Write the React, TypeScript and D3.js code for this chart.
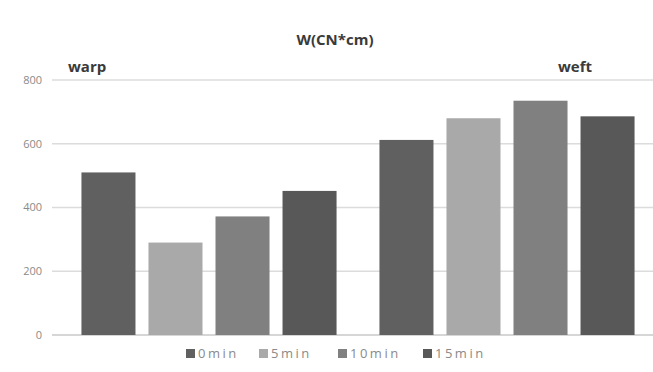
import React from "react";
import * as d3 from "d3";

const groups = ["warp", "weft"];
const seriesNames = ["0min", "5min", "10min", "15min"];
const warpValues = [510, 290, 372, 452];
const weftValues = [612, 680, 735, 686];
const yTicks = [0, 200, 400, 600, 800];
const colors = ["#606060", "#a9a9a9", "#808080", "#585858"];

const W = 653;
const H = 372;

export default function App() {
  const valuesByGroup = [warpValues, weftValues];
  const y = d3.scaleLinear().domain([0, 800]).range([335, 80]);
  const x0 = d3.scaleBand().domain(groups).range([60, 656]).padding(0);
  const x1 = d3
    .scaleBand()
    .domain(seriesNames)
    .range([0, x0.bandwidth()])
    .paddingInner(0.194)
    .paddingOuter(0.32);

  const font = "'Open Sans', 'Liberation Sans', sans-serif";
  const legendOffsets = [0, 73, 152, 237];

  return (
    <svg
      width={W}
      height={H}
      style={{ position: "absolute", left: 0, top: 0, background: "#fff" }}
      fontFamily={font}
    >
      <text x={335} y={45} textAnchor="middle" fontSize={15} fontWeight={700} fill="#3a3a3a">
        W(CN*cm)
      </text>

      {yTicks.map((t) => (
        <g key={t}>
          <line x1={52} x2={653} y1={y(t)} y2={y(t)} stroke={t === 0 ? "#c8c8c8" : "#dcdcdc"} strokeWidth={1.5} />
          <text x={42} y={y(t)} dy="0.35em" textAnchor="end" fontSize={11} fill="#8a8a8a">
            {t}
          </text>
        </g>
      ))}

      {groups.map((g, gi) => (
        <g key={g} transform={`translate(${x0(g)},0)`}>
          {valuesByGroup[gi].map((v, i) => (
            <rect
              key={seriesNames[i]}
              x={x1(seriesNames[i])}
              y={y(v)}
              width={x1.bandwidth()}
              height={y(0) - y(v)}
              fill={colors[i]}
            />
          ))}
        </g>
      ))}

      <text x={68} y={72} fontSize={15} fontWeight={700} fill="#3a3a3a">
        warp
      </text>
      <text x={558} y={72} fontSize={15} fontWeight={700} fill="#3a3a3a">
        weft
      </text>

      {seriesNames.map((s, i) => (
        <g key={s} transform={`translate(${186 + legendOffsets[i]},353)`}>
          <rect x={0} y={-4} width={9} height={9} fill={colors[i]} />
          <text x={12} y={0} dy="0.38em" fontSize={13} letterSpacing={2.5} fill="#8a8a8a">
            {s}
          </text>
        </g>
      ))}
    </svg>
  );
}
